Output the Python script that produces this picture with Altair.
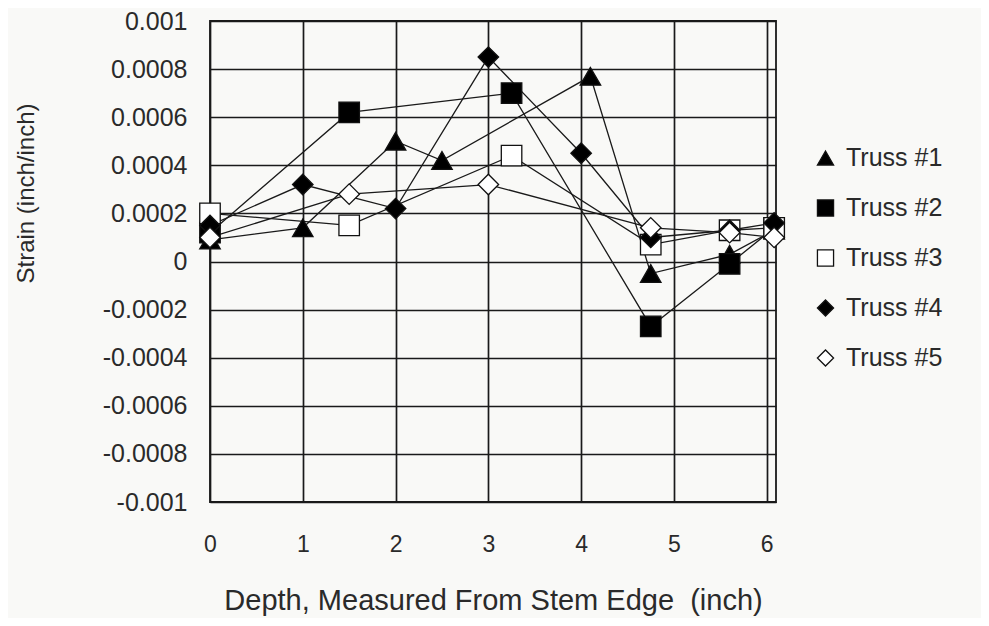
import altair as alt
import pandas as pd

series_names = ["Truss #1", "Truss #2", "Truss #3", "Truss #4", "Truss #5"]

t1_x = [0, 1, 2, 2.5, 4.1, 4.75, 5.6, 6.08]
t1_y = [0.00009, 0.00014, 0.0005, 0.00042, 0.00077, -0.00005, 0.00003, 0.00013]

t2_x = [0, 1.5, 3.25, 4.75, 5.6, 6.08]
t2_y = [0.00012, 0.00062, 0.0007, -0.00027, -0.00001, 0.00014]

t3_x = [0, 1.5, 3.25, 4.75, 5.6, 6.08]
t3_y = [0.0002, 0.00015, 0.00044, 0.00007, 0.00013, 0.00014]

t4_x = [0, 1, 2, 3, 4, 4.75, 5.6, 6.08]
t4_y = [0.00015, 0.00032, 0.00022, 0.00085, 0.00045, 0.0001, 0.00013, 0.00016]

t5_x = [0, 1.5, 3, 4.75, 5.6, 6.08]
t5_y = [0.0001, 0.00028, 0.00032, 0.00014, 0.00012, 0.0001]

x_ticks = [0, 1, 2, 3, 4, 5, 6]
y_ticks = [-0.001, -0.0008, -0.0006, -0.0004, -0.0002, 0, 0.0002, 0.0004, 0.0006, 0.0008, 0.001]

shapes = ["triangle-up", "square", "square", "diamond", "diamond"]
fills = ["black", "black", "white", "black", "white"]
strokes = ["#111111"] * 5

rows = []
for name, xs, ys in zip(series_names, [t1_x, t2_x, t3_x, t4_x, t5_x], [t1_y, t2_y, t3_y, t4_y, t5_y]):
    for i, (xv, yv) in enumerate(zip(xs, ys)):
        rows.append({"series": name, "depth": xv, "strain": yv, "idx": i})
df = pd.DataFrame(rows)

FONT = "Liberation Sans"
TXT = "#2a2a2a"
GRID = "#1a1a1a"

x_enc = alt.X("depth:Q",
              scale=alt.Scale(domain=[0, 6.1], nice=False, zero=False),
              axis=alt.Axis(values=x_ticks,
                            title="Depth, Measured From Stem Edge\u00a0\u00a0(inch)",
                            grid=True, ticks=False, domain=False, labelPadding=31,
                            titlePadding=30, labelFontSize=23, titleFontSize=29,
                            labelFont=FONT, titleFont=FONT, labelColor=TXT, titleColor=TXT,
                            titleFontWeight="normal", gridColor=GRID, gridWidth=1.7,
                            gridOpacity=1, labelFlush=False))
y_enc = alt.Y("strain:Q",
              scale=alt.Scale(domain=[-0.001, 0.001], nice=False, zero=False),
              axis=alt.Axis(values=y_ticks, title="Strain (inch/inch)",
                            labelExpr="replace(format(datum.value, '.4~f'), '\u2212', '-')",
                            grid=True, ticks=False, domain=False, labelPadding=23,
                            titlePadding=64, labelFontSize=25, titleFontSize=24,
                            titleY=172,
                            labelFont=FONT, titleFont=FONT, labelColor=TXT, titleColor=TXT,
                            titleFontWeight="normal", gridColor=GRID, gridWidth=1.7,
                            gridOpacity=1))

legend_cfg = dict(title=None, orient="none", legendX=603, legendY=124,
                  symbolSize=260, symbolStrokeWidth=1.3,
                  labelFontSize=25, labelFont=FONT, labelColor=TXT,
                  labelOffset=8, rowPadding=24, clipHeight=26, padding=0)

base = alt.Chart(df)

lines = base.mark_line(color="#1a1a1a", strokeWidth=1.3).encode(
    x=x_enc, y=y_enc, detail="series:N", order="idx:Q")

points = base.mark_point(filled=True, size=420, strokeWidth=1.3, opacity=1).encode(
    x=x_enc, y=y_enc,
    stroke=alt.Stroke("series:N", scale=alt.Scale(domain=series_names, range=strokes),
                      legend=alt.Legend(**legend_cfg)),
    shape=alt.Shape("series:N", scale=alt.Scale(domain=series_names, range=shapes),
                    legend=alt.Legend(**legend_cfg)),
    fill=alt.Fill("series:N", scale=alt.Scale(domain=series_names, range=fills),
                  legend=alt.Legend(**legend_cfg)),
)

chart = alt.layer(lines, points).properties(
    width=566, height=481,
    autosize=alt.AutoSizeParams(type="none"),
    padding={"left": 202, "top": 13, "right": 205, "bottom": 116},
    background="#f9f9f7",
).configure_view(stroke=GRID, strokeWidth=1.8)

chart.save("out.html", embed_options={"renderer": "svg", "actions": False})
